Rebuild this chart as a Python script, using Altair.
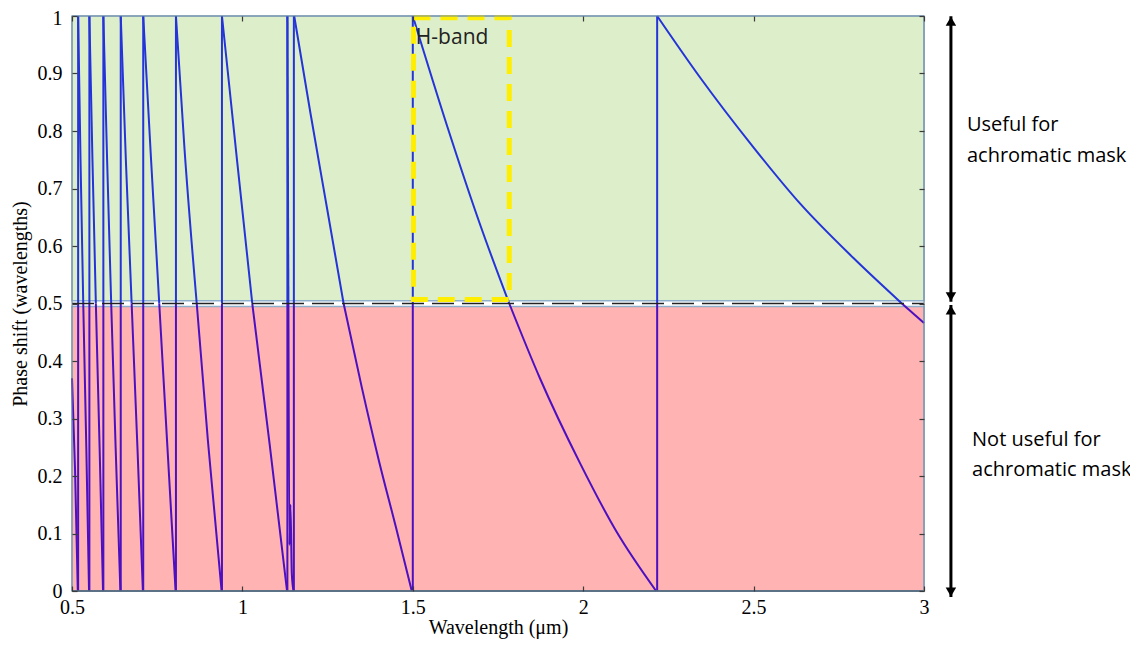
import altair as alt
import pandas as pd

# ---------------- data ----------------
x_ticks = [0.5, 1.0, 1.5, 2.0, 2.5, 3.0]
y_ticks = [0.0, 0.1, 0.2, 0.3, 0.4, 0.5, 0.6, 0.7, 0.8, 0.9, 1.0]

# wavelengths (um) where the phase wraps from 0 back to 1
jump_wl = [0.518, 0.551, 0.592, 0.643, 0.709, 0.805, 0.940, 1.132, 1.151, 1.500, 2.217]

# descending pieces of the phase curve (wavelength, phase)
seg00_wl = [0.500, 0.509, 0.517]
seg00_ph = [0.37, 0.21, 0.0]
seg01_wl = [0.518, 0.525, 0.533, 0.542, 0.550]
seg01_ph = [1.0, 0.75, 0.5, 0.25, 0.0]
seg02_wl = [0.551, 0.560, 0.570, 0.581, 0.591]
seg02_ph = [1.0, 0.75, 0.5, 0.25, 0.0]
seg03_wl = [0.592, 0.603, 0.615, 0.628, 0.642]
seg03_ph = [1.0, 0.75, 0.5, 0.25, 0.0]
seg04_wl = [0.643, 0.658, 0.675, 0.692, 0.708]
seg04_ph = [1.0, 0.75, 0.5, 0.25, 0.0]
seg05_wl = [0.709, 0.732, 0.756, 0.780, 0.804]
seg05_ph = [1.0, 0.75, 0.5, 0.25, 0.0]
seg06_wl = [0.805, 0.830, 0.866, 0.899, 0.939]
seg06_ph = [1.0, 0.77, 0.5, 0.26, 0.0]
seg07_wl = [0.940, 0.985, 1.029, 1.080, 1.131]
seg07_ph = [1.0, 0.745, 0.5, 0.255, 0.0]
seg08_wl = [1.132, 1.135, 1.138, 1.141, 1.145, 1.150]
seg08_ph = [1.0, 0.5, 0.08, 0.15, 0.03, 0.0]
seg09_wl = [1.152, 1.200, 1.250, 1.297, 1.350, 1.400, 1.450, 1.497]
seg09_ph = [1.0, 0.83, 0.66, 0.5, 0.355, 0.228, 0.112, 0.0]
seg10_wl = [1.500, 1.600, 1.700, 1.783, 1.873, 1.991, 2.098, 2.214]
seg10_ph = [1.0, 0.81, 0.633, 0.5, 0.37, 0.222, 0.103, 0.0]
seg11_wl = [2.217, 2.343, 2.499, 2.636, 2.793, 2.935, 3.000]
seg11_ph = [1.0, 0.893, 0.772, 0.674, 0.579, 0.5, 0.466]

# regions
zone_names = ["useful", "not useful"]
zone_low = [0.505, 0.0]
zone_high = [1.0, 0.495]
zone_colors = ["#ddefca", "#ffb3b3"]

hband_wl = [1.502, 1.783]
hband_ph = [0.507, 0.997]

# ---------------- build tables ----------------
segments = [
    (seg00_wl, seg00_ph), (seg01_wl, seg01_ph), (seg02_wl, seg02_ph),
    (seg03_wl, seg03_ph), (seg04_wl, seg04_ph), (seg05_wl, seg05_ph),
    (seg06_wl, seg06_ph), (seg07_wl, seg07_ph), (seg08_wl, seg08_ph),
    (seg09_wl, seg09_ph), (seg10_wl, seg10_ph), (seg11_wl, seg11_ph),
]
rows = []
for i, (wl, ph) in enumerate(segments):
    for k, (w, p) in enumerate(zip(wl, ph)):
        if p >= 0.5:
            rows.append({"piece": f"s{i}u", "part": "upper", "wl": w, "ph": p, "k": k})
        if p <= 0.5:
            rows.append({"piece": f"s{i}l", "part": "lower", "wl": w, "ph": p, "k": k})
line_df = pd.DataFrame(rows)

jrows = []
for w in jump_wl:
    jrows.append({"wl": w, "p0": 0.0, "p1": 0.5, "part": "lower"})
    jrows.append({"wl": w, "p0": 0.5, "p1": 1.0, "part": "upper"})
jump_df = pd.DataFrame(jrows)

zone_df = pd.DataFrame({
    "zone": zone_names, "lo": zone_low, "hi": zone_high,
    "x0": [x_ticks[0]] * 2, "x1": [x_ticks[-1]] * 2,
})
frame_df = pd.DataFrame({"x0": [x_ticks[0]], "x1": [x_ticks[-1]],
                         "y0": [y_ticks[0]], "y1": [y_ticks[-1]]})
half_df = pd.DataFrame({"x0": [x_ticks[0]], "x1": [x_ticks[-1]], "y": [0.5]})
hband_df = pd.DataFrame({"x0": [hband_wl[0]], "x1": [hband_wl[1]],
                         "y0": [hband_ph[0]], "y1": [hband_ph[1]]})
hlabel_df = pd.DataFrame({"x": [1.509], "y": [0.962], "t": ["H-band"]})

arrow_x = 3.079
arrow_df = pd.DataFrame({"x": [arrow_x, arrow_x], "y0": [0.503, -0.0105],
                         "y1": [0.9995, 0.4975]})
head_up = pd.DataFrame({"x": [arrow_x, arrow_x], "y": [0.9995, 0.4975]})
head_dn = pd.DataFrame({"x": [arrow_x, arrow_x], "y": [0.503, -0.0105]})
note_df = pd.DataFrame({
    "x": [3.126, 3.126, 3.141, 3.141],
    "y": [0.810, 0.757, 0.263, 0.210],
    "t": ["Useful for", "achromatic mask", "Not useful for", "achromatic mask"],
})

# ---------------- chart ----------------
xs = alt.Scale(domain=[0.5, 3.0], nice=False, zero=False)
ys = alt.Scale(domain=[0.0, 1.0], nice=False, zero=False)
serif = "Liberation Serif"
sans = "Open Sans"
blue = "#2434d8"
purple = "#4c10c0"

ax_bottom = alt.Axis(orient="bottom", values=x_ticks, format="~g", offset=-5, tickSize=5,
                     domain=False, grid=False, labelFlush=False, labelFont=serif,
                     labelFontSize=20, labelColor="black", labelPadding=6, tickColor="#3a3a3a",
                     tickWidth=1.2, zindex=1,
                     title="Wavelength (μm)", titleFont=serif, titleFontSize=20,
                     titleFontWeight="normal", titleColor="black", titlePadding=0)
ax_left = alt.Axis(orient="left", values=y_ticks, format="~g", offset=-5, tickSize=5,
                   domain=False, grid=False, labelFlush=False, labelFont=serif,
                   labelFontSize=20, labelColor="black", labelPadding=10, tickColor="#3a3a3a",
                   labelOffset={"condition": {"test": "datum.value >= 1", "value": 2}, "value": 0},
                   tickWidth=1.2, zindex=1,
                   title="Phase shift (wavelengths)", titleFont=serif, titleFontSize=20,
                   titleFontWeight="normal", titleColor="black", titlePadding=7)
ax_top = alt.Axis(orient="top", values=x_ticks, labels=False, offset=-5, tickSize=5,
                  domain=False, grid=False, tickColor="#3a3a3a", tickWidth=1.2, zindex=1,
                  title=None)
ax_right = alt.Axis(orient="right", values=y_ticks, labels=False, offset=-5, tickSize=5,
                    domain=False, grid=False, tickColor="#3a3a3a", tickWidth=1.2, zindex=1,
                    title=None)

zones = alt.Chart(zone_df).mark_rect(stroke="#8fb0cc", strokeWidth=1.5).encode(
    x=alt.X("x0:Q", scale=xs, axis=ax_bottom),
    x2="x1:Q",
    y=alt.Y("lo:Q", scale=ys, axis=ax_left),
    y2="hi:Q",
    fill=alt.Fill("zone:N", scale=alt.Scale(domain=zone_names, range=zone_colors), legend=None),
)

part_scale = alt.Scale(domain=["upper", "lower"], range=[blue, purple])

jumps = alt.Chart(jump_df).mark_rule(strokeWidth=2).encode(
    x=alt.X("wl:Q", scale=xs, axis=None),
    y=alt.Y("p0:Q", scale=ys, axis=None),
    y2="p1:Q",
    stroke=alt.Stroke("part:N", scale=part_scale, legend=None),
)

curves = alt.Chart(line_df).mark_line(strokeWidth=2, interpolate="monotone").encode(
    x=alt.X("wl:Q", scale=xs, axis=None),
    y=alt.Y("ph:Q", scale=ys, axis=None),
    detail="piece:N",
    order="k:Q",
    stroke=alt.Stroke("part:N", scale=part_scale, legend=None),
)

half = alt.Chart(half_df).mark_rule(color="#222", strokeWidth=1.6, strokeDash=[22, 8]).encode(
    x=alt.X("x0:Q", scale=xs, axis=None), x2="x1:Q",
    y=alt.Y("y:Q", scale=ys, axis=None),
)

hband = alt.Chart(hband_df).mark_rect(fillOpacity=0, stroke="#ffee00", strokeWidth=5,
                                      strokeDash=[17, 10]).encode(
    x=alt.X("x0:Q", scale=xs, axis=None), x2="x1:Q",
    y=alt.Y("y0:Q", scale=ys, axis=None), y2="y1:Q",
)

hlabel = alt.Chart(hlabel_df).mark_text(font=sans, fontSize=21, align="left",
                                        baseline="middle", color="#222").encode(
    x=alt.X("x:Q", scale=xs, axis=None), y=alt.Y("y:Q", scale=ys, axis=None), text="t:N",
)

frame = alt.Chart(frame_df).mark_rect(fillOpacity=0, stroke="#6f8aa3", strokeWidth=1).encode(
    x=alt.X("x0:Q", scale=xs, axis=ax_top), x2="x1:Q",
    y=alt.Y("y0:Q", scale=ys, axis=ax_right), y2="y1:Q",
)

base_line = alt.Chart(frame_df).mark_rule(color="#2d3b4a", strokeWidth=1.5).encode(
    x=alt.X("x0:Q", scale=xs, axis=None), x2="x1:Q",
    y=alt.Y("y0:Q", scale=ys, axis=None),
)

arrows = alt.Chart(arrow_df).mark_rule(color="black", strokeWidth=3).encode(
    x=alt.X("x:Q", scale=xs, axis=None),
    y=alt.Y("y0:Q", scale=ys, axis=None), y2="y1:Q",
)
up_heads = alt.Chart(head_up).mark_point(
    shape="triangle-up", size=110, filled=True, color="black", opacity=1, yOffset=5
).encode(x=alt.X("x:Q", scale=xs, axis=None), y=alt.Y("y:Q", scale=ys, axis=None))
dn_heads = alt.Chart(head_dn).mark_point(
    shape="triangle-down", size=110, filled=True, color="black", opacity=1, yOffset=-5
).encode(x=alt.X("x:Q", scale=xs, axis=None), y=alt.Y("y:Q", scale=ys, axis=None))

notes = alt.Chart(note_df).mark_text(font=sans, fontSize=20, align="left",
                                     baseline="middle", color="black").encode(
    x=alt.X("x:Q", scale=xs, axis=None), y=alt.Y("y:Q", scale=ys, axis=None), text="t:N",
)

chart = alt.layer(
    zones, curves, jumps, half, hband, hlabel, base_line, frame,
    arrows, up_heads, dn_heads, notes,
).resolve_axis(x="independent", y="independent").resolve_scale(
    fill="independent", stroke="independent"
).properties(
    width=852, height=575,
    autosize=alt.AutoSizeParams(type="none"),
    padding={"left": 64, "top": 8, "right": 206, "bottom": 48},
).configure_view(stroke=None).configure(background="white")

chart.save("out.html", embed_options={"renderer": "svg", "actions": False})
